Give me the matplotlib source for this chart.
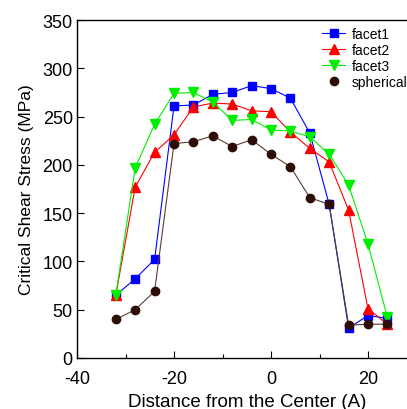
import matplotlib
matplotlib.use("Agg")
import matplotlib.pyplot as plt
from matplotlib.lines import Line2D
from matplotlib.ticker import MultipleLocator

plt.rcParams['font.family'] = ['Liberation Sans', 'DejaVu Sans']
plt.rcParams['axes.unicode_minus'] = False

x = [-32, -28, -24, -20, -16, -12, -8, -4, 0, 4, 8, 12, 16, 20, 24]
facet1 = [65, 82, 102, 261, 262, 273, 275, 282, 279, 269, 233, 159, 31, 44, 41]
facet2 = [65, 177, 213, 231, 260, 264, 263, 256, 255, 234, 217, 203, 153, 51, 35]
facet3 = [65, 197, 242, 274, 275, 265, 246, 247, 236, 235, 229, 211, 179, 118, 42]
spherical = [40, 50, 69, 222, 224, 230, 219, 226, 211, 198, 166, 159, 34, 35, 35]

fig = plt.figure(figsize=(4.07, 4.10), dpi=100)
ax = fig.add_axes([77/407, 51/410, 339.5/407, 338/410])

ax.plot(x, facet1, color='#0000ff', lw=0.8, marker='s', ms=6, label='facet1')
ax.plot(x, facet2, color='#ff0000', lw=0.8, marker='^', ms=7, label='facet2')
ax.plot(x, facet3, color='#00ee00', lw=0.8, marker='v', ms=7, label='facet3')
ax.plot(x, spherical, color='#5a3b30', lw=0.8, marker='o', ms=6,
        markerfacecolor='#2d0e07', markeredgecolor='#2d0e07', label='spherical')

ax.set_xlim(-40, 30)
ax.set_ylim(0, 350)
ax.xaxis.set_major_locator(MultipleLocator(20))
ax.xaxis.set_minor_locator(MultipleLocator(10))
ax.yaxis.set_major_locator(MultipleLocator(50))
ax.tick_params(which='both', direction='in', labelsize=13)
ax.tick_params(axis='x', which='both', pad=9)
ax.tick_params(axis='y', which='both', pad=3)
ax.tick_params(which='major', length=5, width=0.8)
ax.tick_params(which='minor', length=3, width=0.8)
ax.tick_params(axis='x', top=False)
for s in ax.spines.values():
    s.set_linewidth(1.0)

ax.set_xlabel('Distance from the Center (A)', fontsize=13.5, labelpad=4)
ax.set_ylabel('Critical Shear Stress (MPa)', fontsize=12.5, labelpad=6)

handles = [
    Line2D([], [], color='#0000ff', lw=0.8, marker='s', ms=6),
    Line2D([], [], color='#ff0000', lw=0.8, marker='^', ms=7),
    Line2D([], [], color='#00ee00', lw=0.8, marker='v', ms=7),
    Line2D([], [], linestyle='none', marker='o', ms=6, color='#2d0e07'),
]
ax.legend(handles, ['facet1', 'facet2', 'facet3', 'spherical'],
          loc='upper left', bbox_to_anchor=(0.723, 0.979), frameon=False,
          fontsize=10, handlelength=1.6, handletextpad=0.5, labelspacing=0.15,
          borderaxespad=0, borderpad=0)

fig.savefig('out.png', dpi=100)
